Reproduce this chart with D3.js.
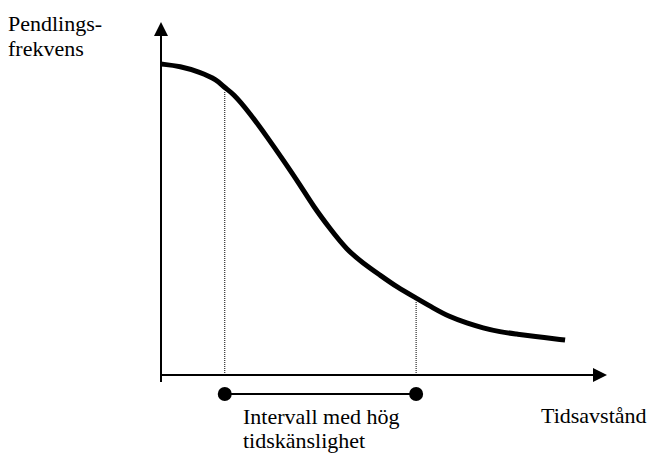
<!DOCTYPE html>
<html><head><meta charset="utf-8">
<script src="https://cdn.jsdelivr.net/npm/d3@7"></script>
</head>
<body><svg id="c" width="656" height="455" style="position:absolute;left:0;top:0;"></svg>
<script>
// Curve: commuting frequency vs time distance (abstract units 0..100)
const distance = [0, 4.3, 8.7, 12.6, 14.3, 16.1, 19.9, 23.8, 27.4, 31.2, 34.1, 37.9, 41.7, 45.3, 49.1, 52.9, 57.2, 61.0, 64.8, 68.6, 72.2, 76.0, 79.8, 83.4, 90.6];
const frequency = [88.1, 87.5, 85.8, 83.6, 81.3, 79.9, 74.2, 67.4, 60.9, 53.8, 47.9, 41.4, 35.4, 31.7, 28.3, 24.9, 21.8, 19.0, 16.4, 14.7, 13.3, 12.2, 11.6, 11.0, 9.9];
// Interval with high time sensitivity
const intervalBounds = [14.3, 57.2];
const intervalLevel = -5.4;
const yLabel = ["Pendlings-", "frekvens"];
const xLabel = "Tidsavstånd";
const intervalLabel = ["Intervall med hög", "tidskänslighet"];

const svg = d3.select("#c");
const x = d3.scaleLinear().domain([0, 100]).range([161, 607]);
const y = d3.scaleLinear().domain([0, 100]).range([375, 22]);

const pts = distance.map((d, i) => [d, frequency[i]]);
const line = d3.line().x(d => x(d[0])).y(d => y(d[1])).curve(d3.curveBasis);
const valueAt = v => frequency[distance.indexOf(v)];

// dotted guide lines
intervalBounds.forEach(b => {
  svg.append("line")
    .attr("x1", x(b)).attr("x2", x(b))
    .attr("y1", y(0)).attr("y2", y(valueAt(b)) + 3)
    .attr("stroke", "#000").attr("stroke-width", 1).attr("stroke-dasharray", "1,1");
});

// axes
svg.append("line").attr("x1", x(0)).attr("x2", x(0)).attr("y1", y(0) + 7).attr("y2", y(100) + 14)
  .attr("stroke", "#000").attr("stroke-width", 2);
svg.append("line").attr("x1", x(0)).attr("x2", x(100) - 14).attr("y1", y(0)).attr("y2", y(0))
  .attr("stroke", "#000").attr("stroke-width", 2);
svg.append("path")
  .attr("d", `M${x(0)},${y(100)} L${x(0) - 7},${y(100) + 14} L${x(0) + 7},${y(100) + 14} Z`)
  .attr("fill", "#000");
svg.append("path")
  .attr("d", `M${x(100)},${y(0)} L${x(100) - 14},${y(0) - 7} L${x(100) - 14},${y(0) + 7} Z`)
  .attr("fill", "#000");

// curve
svg.append("path").datum(pts).attr("d", line)
  .attr("fill", "none").attr("stroke", "#000").attr("stroke-width", 5);

// interval
svg.append("line")
  .attr("x1", x(intervalBounds[0])).attr("x2", x(intervalBounds[1]))
  .attr("y1", y(intervalLevel)).attr("y2", y(intervalLevel))
  .attr("stroke", "#000").attr("stroke-width", 2);
svg.selectAll("circle.end").data(intervalBounds).enter().append("circle")
  .attr("cx", d => x(d)).attr("cy", y(intervalLevel)).attr("r", 7).attr("fill", "#000");

// labels: 20px serif scaled to ~22px
const k = 1.1;
const txt = (t, tx, ty) => svg.append("g").attr("transform", `translate(${tx},${ty}) scale(${k})`)
  .append("text").attr("x", 0).attr("y", 0)
  .style("font-family", `"Liberation Serif"`).style("font-size", "20px").text(t);
yLabel.forEach((t, i) => txt(t, 8, 31 + i * 25));
txt(xLabel, 541, 423);
intervalLabel.forEach((t, i) => txt(t, 243, 424 + i * 24));
</script></body></html>
